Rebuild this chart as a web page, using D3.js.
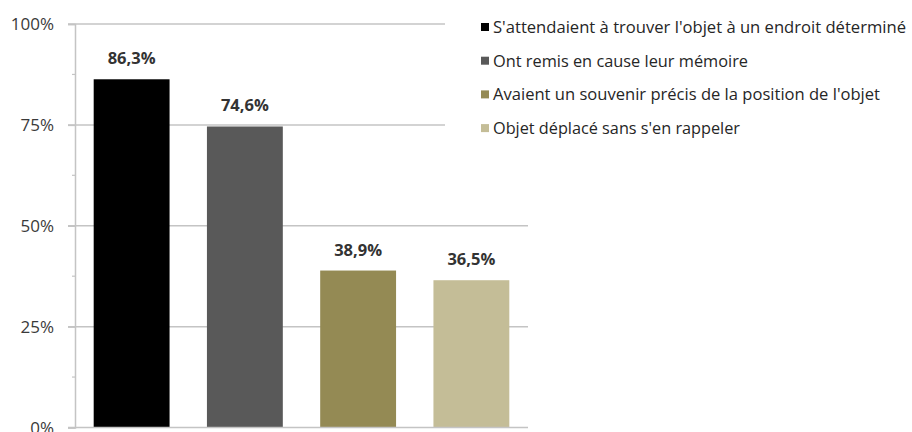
<!DOCTYPE html>
<html><head><meta charset="utf-8">
<script src="https://cdn.jsdelivr.net/npm/d3@7"></script>
<style>body{margin:0;background:#fff}svg{display:block}</style>
</head><body><svg id="c" width="912" height="432"></svg>
<script>
const categories = ["S'attendaient à trouver l'objet à un endroit déterminé","Ont remis en cause leur mémoire","Avaient un souvenir précis de la position de l'objet","Objet déplacé sans s'en rappeler"];
const values = [86.3, 74.6, 38.9, 36.5];
const colors = ["#000000","#595959","#948A54","#C4BD97"];
const yTicks = [0, 25, 50, 75, 100];
const yMinor = [12.5, 37.5, 62.5, 87.5];
const legendWidths = [413, 255, 387, 247];

const svg = d3.select("#c");
const x = d3.scaleBand().domain(categories).range([75, 528]).paddingInner(0.33).paddingOuter(0.165);
const y = d3.scaleLinear().domain([0, 100]).range([427.5, 24]);

// gridlines
svg.append("g").selectAll("line").data(yTicks.filter(d => d > 0)).join("line")
  .attr("x1", 68).attr("x2", 528).attr("y1", d => y(d)).attr("y2", d => y(d))
  .attr("stroke", "#c4c4c4").attr("stroke-width", 1.5);

// axis
const ax = svg.append("g").attr("transform", "translate(75,0)")
  .call(d3.axisLeft(y).tickValues(yTicks).tickSize(7).tickFormat(d => d + "%"));
ax.select(".domain").attr("stroke", "#c4c4c4").attr("stroke-width", 1.5);
ax.selectAll(".tick line").attr("stroke", "#c4c4c4").attr("stroke-width", 1.5);
ax.selectAll(".tick text").attr("x", -21).attr("dy", "0.35em").attr("fill", "#3a3a3a")
  .style("font-family", "Open Sans, sans-serif").style("font-size", "17px");
svg.append("g").selectAll("line").data(yMinor).join("line")
  .attr("x1", 72).attr("x2", 75).attr("y1", d => y(d)).attr("y2", d => y(d))
  .attr("stroke", "#c4c4c4").attr("stroke-width", 1.2);

// bars
svg.append("g").selectAll("rect").data(values).join("rect")
  .attr("x", (d, i) => x(categories[i])).attr("width", x.bandwidth())
  .attr("y", d => y(d)).attr("height", d => y(0) - y(d))
  .attr("fill", (d, i) => colors[i]);

// baseline
svg.append("line").attr("x1", 68).attr("x2", 528).attr("y1", y(0)).attr("y2", y(0))
  .attr("stroke", "#c4c4c4").attr("stroke-width", 1.5);

// value labels
svg.append("g").selectAll("text").data(values).join("text")
  .attr("x", (d, i) => x(categories[i]) + x.bandwidth() / 2)
  .attr("y", d => y(d) - 15)
  .attr("text-anchor", "middle").attr("fill", "#333")
  .style("font-family", "Open Sans, sans-serif").style("font-size", "16.5px").style("font-weight", "bold")
  .text(d => d.toFixed(1).replace(".", ",") + "%");

// legend
svg.append("rect").attr("x", 445).attr("y", 0).attr("width", 467).attr("height", 148).attr("fill", "#fff");
const lg = svg.append("g").selectAll("g").data(categories).join("g")
  .attr("transform", (d, i) => `translate(481,${27 + i * 33.7})`);
lg.append("rect").attr("x", 0).attr("y", -4).attr("width", 8).attr("height", 8).attr("fill", (d, i) => colors[i]);
lg.append("text").attr("x", 12).attr("dy", "0.35em").attr("fill", "#262626")
  .style("font-family", "Open Sans, sans-serif").style("font-size", "17px")
  .attr("textLength", (d, i) => legendWidths[i]).attr("lengthAdjust", "spacingAndGlyphs")
  .text(d => d);
</script></body></html>
